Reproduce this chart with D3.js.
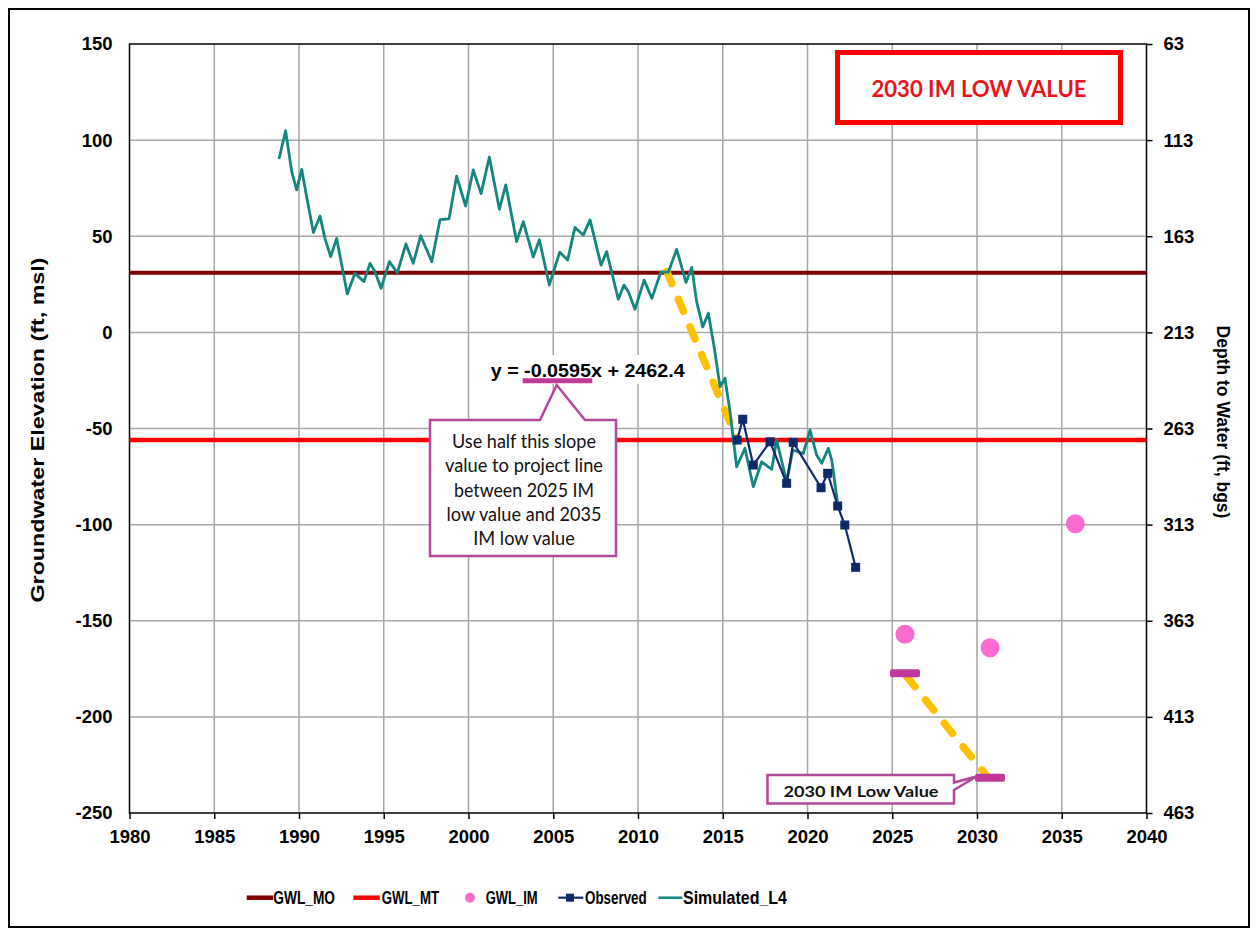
<!DOCTYPE html>
<html>
<head>
<meta charset="utf-8">
<script src="https://cdn.jsdelivr.net/npm/d3@7/dist/d3.min.js"></script>
<style>
  body { margin: 0; background: #ffffff; }
  svg { display: block; }
</style>
</head>
<body>
<script>
// ---------------- DATA ----------------
const xTickValues = [1980, 1985, 1990, 1995, 2000, 2005, 2010, 2015, 2020, 2025, 2030, 2035, 2040];
const yTickValues = [-250, -200, -150, -100, -50, 0, 50, 100, 150];
const depthTickValues = [463, 413, 363, 313, 263, 213, 163, 113, 63];

const simYears = [1988.82, 1989.21, 1989.57, 1989.86, 1990.16, 1990.45, 1990.85, 1991.24, 1991.53, 1991.87,
  1992.22, 1992.85, 1993.3, 1993.83, 1994.19, 1994.48, 1994.84, 1995.33, 1995.8, 1996.31,
  1996.74, 1997.18, 1997.83, 1998.32, 1998.85, 1999.3, 1999.83, 2000.28, 2000.74, 2001.23,
  2001.82, 2002.2, 2002.84, 2003.23, 2003.82, 2004.18, 2004.77, 2005.38, 2005.85, 2006.28,
  2006.77, 2007.17, 2007.82, 2008.15, 2008.84, 2009.17, 2009.43, 2009.82, 2010.36, 2010.82,
  2011.34, 2011.79, 2012.28, 2012.52, 2012.83, 2013.17, 2013.46, 2013.82, 2014.15, 2014.5,
  2014.84, 2015.13, 2015.43, 2015.82, 2016.31, 2016.8, 2017.3, 2017.89, 2018.18, 2018.77,
  2019.13, 2019.75, 2020.15, 2020.54, 2020.84, 2021.23, 2021.43, 2021.76];
const simValues = [90.2, 104.9, 83.6, 74.1, 84.8, 70.6, 51.9, 60.5, 48.9, 39.4,
  48.9, 20, 30.7, 26.4, 35.9, 31.6, 22.9, 36.8, 31, 46,
  35.9, 50.3, 36.8, 58.6, 59, 81.3, 65.7, 84.5, 72.2, 91.2,
  64, 76.7, 47.2, 57.6, 39.2, 48.2, 24.6, 41.7, 37.6, 54.6,
  50.6, 58.5, 35, 42, 17.2, 24.6, 21.2, 12, 27.2, 17.7,
  31.3, 31.3, 43.2, 35.8, 26, 33.8, 16, 2.8, 10, -8,
  -28.3, -23.9, -41.3, -69.9, -60.3, -80.3, -67.3, -71.2, -56, -77.7,
  -61.2, -63, -50.8, -63.8, -68.1, -60.3, -66.4, -88];

const obsYears = [2015.85, 2016.18, 2016.8, 2017.79, 2018.77, 2019.16, 2020.8, 2021.19, 2021.78, 2022.2, 2022.84];
const obsValues = [-56, -45.2, -69, -56.9, -78.5, -57.2, -80.8, -73.3, -90.3, -100.2, -122.2];

const imYears = [2025.75, 2030.77, 2035.8];
const imValues = [-157, -164, -99.5];

const imLowYears = [2025.75, 2030.77];
const imLowValues = [-177.3, -231.6];

const trendYears = [2011.7, 2015.82];
const trendValues = [31.6, -55.1];
const projYears = [2025.85, 2030.6];
const projValues = [-179, -231];

const moValue = 31;
const mtValue = -56;

const legendLabels = ["GWL_MO", "GWL_MT", "GWL_IM", "Observed", "Simulated_L4"];
const calloutLines = ["Use half this slope", "value to project line", "between 2025 IM", "low value and 2035", "IM low value"];

// ---------------- STYLE ----------------
const W = 1258, H = 936;
const C = {
  mo: "#800000", mt: "#FF0000", sim: "#14857F", obs: "#0C2A6A",
  im: "#FA6CCF", bar: "#C2399C", yellow: "#FFC000", grid: "#A6A6A6",
  callout: "#B5479D", title: "#E8141C"
};
const arial = "'Liberation Sans', Arial, sans-serif";
const calibri = "Lato, 'Open Sans', sans-serif";
const fmt = d => String(d);

const svg = d3.select("body").append("svg").attr("width", W).attr("height", H);

const x = d3.scaleLinear().domain([1980, 2040]).range([129.5, 1146.5]);
const y = d3.scaleLinear().domain([-250, 150]).range([813, 44]);
const yDepth = d3.scaleLinear().domain([463, 63]).range([813, 44]);

// outer border
svg.append("rect").attr("x", 9).attr("y", 9).attr("width", 1240).attr("height", 918)
  .attr("fill", "#fff").attr("stroke", "#000").attr("stroke-width", 2);

// gridlines
const grid = svg.append("g");
grid.selectAll("line.v").data(xTickValues.slice(1, -1)).join("line")
  .attr("x1", d => x(d)).attr("x2", d => x(d)).attr("y1", y(150)).attr("y2", y(-250))
  .attr("stroke", C.grid).attr("stroke-width", 1.5);
grid.selectAll("line.h").data(yTickValues.slice(1, -1)).join("line")
  .attr("y1", d => y(d)).attr("y2", d => y(d)).attr("x1", x(1980)).attr("x2", x(2040))
  .attr("stroke", C.grid).attr("stroke-width", 1.5);

// plot frame
svg.append("rect").attr("x", x(1980)).attr("y", y(150))
  .attr("width", x(2040) - x(1980)).attr("height", y(-250) - y(150))
  .attr("fill", "none").attr("stroke", "#000").attr("stroke-width", 1.5);

function styleAxis(g) {
  g.select(".domain").remove();
  g.selectAll(".tick line").attr("stroke", "#000").attr("stroke-width", 1.5);
  g.selectAll("text").attr("font-family", arial).attr("font-weight", "bold")
    .attr("font-size", 18.5).attr("fill", "#000");
}
svg.append("g").attr("transform", `translate(${x(1980)},0)`)
  .call(d3.axisLeft(y).tickValues(yTickValues).tickFormat(fmt).tickSize(0).tickPadding(17)).call(styleAxis);
svg.append("g").attr("transform", `translate(0,${y(-250)})`)
  .call(d3.axisBottom(x).tickValues(xTickValues).tickFormat(fmt).tickSizeInner(6).tickSizeOuter(0).tickPadding(11)).call(styleAxis);
svg.append("g").attr("transform", `translate(${x(2040)},0)`)
  .call(d3.axisRight(yDepth).tickValues(depthTickValues).tickFormat(fmt).tickSize(6).tickPadding(11)).call(styleAxis);

// axis titles
svg.append("text").attr("transform", `translate(44,430) rotate(-90)`)
  .attr("text-anchor", "middle").attr("font-family", arial).attr("font-weight", "bold")
  .attr("font-size", 18.5).attr("textLength", 345).attr("lengthAdjust", "spacingAndGlyphs")
  .text("Groundwater Elevation (ft, msl)");
svg.append("text").attr("transform", `translate(1217,422) rotate(90)`)
  .attr("text-anchor", "middle").attr("font-family", arial).attr("font-weight", "bold")
  .attr("font-size", 17.5).text("Depth to Water (ft, bgs)");

// MO / MT lines
svg.append("line").attr("x1", x(1980)).attr("x2", x(2040)).attr("y1", y(moValue)).attr("y2", y(moValue))
  .attr("stroke", C.mo).attr("stroke-width", 4);
svg.append("line").attr("x1", x(1980)).attr("x2", x(2040)).attr("y1", y(mtValue)).attr("y2", y(mtValue))
  .attr("stroke", C.mt).attr("stroke-width", 4.5);

const line = d3.line().x(d => x(d[0])).y(d => y(d[1]));

// yellow dashed trend / projection
[d3.zip(trendYears, trendValues), d3.zip(projYears, projValues)].forEach(pts => {
  svg.append("path").attr("d", line(pts)).attr("fill", "none").attr("stroke", C.yellow)
    .attr("stroke-width", 7.5).attr("stroke-linecap", "round").attr("stroke-dasharray", "13 17");
});

// simulated
svg.append("path").attr("d", line(d3.zip(simYears, simValues)))
  .attr("fill", "none").attr("stroke", C.sim).attr("stroke-width", 2.8).attr("stroke-linejoin", "round");

// observed
const obs = d3.zip(obsYears, obsValues);
svg.append("path").attr("d", line(obs)).attr("fill", "none").attr("stroke", C.obs).attr("stroke-width", 2.2);
svg.selectAll("rect.obs").data(obs).join("rect").attr("class", "obs")
  .attr("x", d => x(d[0]) - 4.5).attr("y", d => y(d[1]) - 4.5).attr("width", 9).attr("height", 9)
  .attr("fill", C.obs);

// IM points
svg.selectAll("circle.im").data(d3.zip(imYears, imValues)).join("circle").attr("class", "im")
  .attr("cx", d => x(d[0])).attr("cy", d => y(d[1])).attr("r", 9.5).attr("fill", C.im);

// IM low bars
svg.selectAll("rect.bar").data(d3.zip(imLowYears, imLowValues)).join("rect").attr("class", "bar")
  .attr("x", d => x(d[0]) - 15).attr("y", d => y(d[1]) - 4).attr("width", 30).attr("height", 8)
  .attr("rx", 2).attr("fill", C.bar);

// equation label
svg.append("rect").attr("x", 486).attr("y", 355).attr("width", 204).attr("height", 29).attr("fill", "#fff");
svg.append("text").attr("x", 490.7).attr("y", 377.3).attr("font-family", arial).attr("font-weight", "bold")
  .attr("font-size", 19).attr("textLength", 194).attr("lengthAdjust", "spacingAndGlyphs")
  .text("y = -0.0595x + 2462.4");
svg.append("line").attr("x1", 522.7).attr("x2", 592.3).attr("y1", 380.7).attr("y2", 380.7)
  .attr("stroke", C.bar).attr("stroke-width", 5);

// callout box
svg.append("path")
  .attr("d", "M430,420 H540 L556.7,385 L585,420 H616 V556 H430 Z")
  .attr("fill", "#fff").attr("stroke", C.callout).attr("stroke-width", 2.5);
const calloutWidths = [144, 158, 140, 155, 101.7];
svg.selectAll("text.callout").data(calloutLines).join("text").attr("class", "callout")
  .attr("x", 524).attr("y", (d, i) => 448.3 + i * 24.1).attr("text-anchor", "middle")
  .attr("font-family", calibri).attr("font-size", 18.5)
  .attr("textLength", (d, i) => calloutWidths[i]).attr("lengthAdjust", "spacingAndGlyphs")
  .attr("fill", "#111").text(d => d);

// lower callout
svg.append("path")
  .attr("d", "M767.5,775 H954 V782.5 L976.5,776.5 L954,790 V803.5 H767.5 Z")
  .attr("fill", "#fff").attr("stroke", C.callout).attr("stroke-width", 2.5);
svg.append("text").attr("x", 861).attr("y", 797.3).attr("text-anchor", "middle")
  .attr("font-family", calibri).attr("font-weight", "bold").attr("font-size", 16)
  .attr("textLength", 155).attr("lengthAdjust", "spacingAndGlyphs").attr("fill", "#111")
  .text("2030 IM Low Value");

// title box
svg.append("rect").attr("x", 837.5).attr("y", 52.5).attr("width", 283).attr("height", 70)
  .attr("fill", "#fff").attr("stroke", C.mt).attr("stroke-width", 5);
svg.append("text").attr("x", 979).attr("y", 97.3).attr("text-anchor", "middle")
  .attr("font-family", calibri).attr("font-weight", "bold").attr("font-size", 23)
  .attr("textLength", 215).attr("lengthAdjust", "spacingAndGlyphs").attr("fill", C.title)
  .text("2030 IM LOW VALUE");

// legend
const legY = 897.7;
const legendX = [246.7, 353.3, 462, 558.3, 658.3];
const legendTextX = [273.3, 381.7, 485.7, 585, 683];
const legendTextW = [61.7, 57.3, 52, 61.7, 104];
const leg = svg.append("g");
legendLabels.forEach((lab, i) => {
  const g = leg.append("g");
  if (i === 0 || i === 1) {
    g.append("line").attr("x1", legendX[i]).attr("x2", legendX[i] + 26.5).attr("y1", legY).attr("y2", legY)
      .attr("stroke", i === 0 ? C.mo : C.mt).attr("stroke-width", 4.5);
  } else if (i === 2) {
    g.append("circle").attr("cx", 470).attr("cy", legY).attr("r", 5).attr("fill", C.im);
  } else if (i === 3) {
    g.append("line").attr("x1", legendX[i]).attr("x2", legendX[i] + 25).attr("y1", legY).attr("y2", legY)
      .attr("stroke", C.obs).attr("stroke-width", 2.2);
    g.append("rect").attr("x", 566).attr("y", legY - 4).attr("width", 8).attr("height", 8).attr("fill", C.obs);
  } else {
    g.append("line").attr("x1", legendX[i]).attr("x2", legendX[i] + 24).attr("y1", legY).attr("y2", legY)
      .attr("stroke", C.sim).attr("stroke-width", 2.5);
  }
  g.append("text").attr("x", legendTextX[i]).attr("y", legY + 6.5)
    .attr("font-family", arial).attr("font-weight", "bold").attr("font-size", 18.5)
    .attr("textLength", legendTextW[i]).attr("lengthAdjust", "spacingAndGlyphs")
    .text(lab);
});
</script>
</body>
</html>
